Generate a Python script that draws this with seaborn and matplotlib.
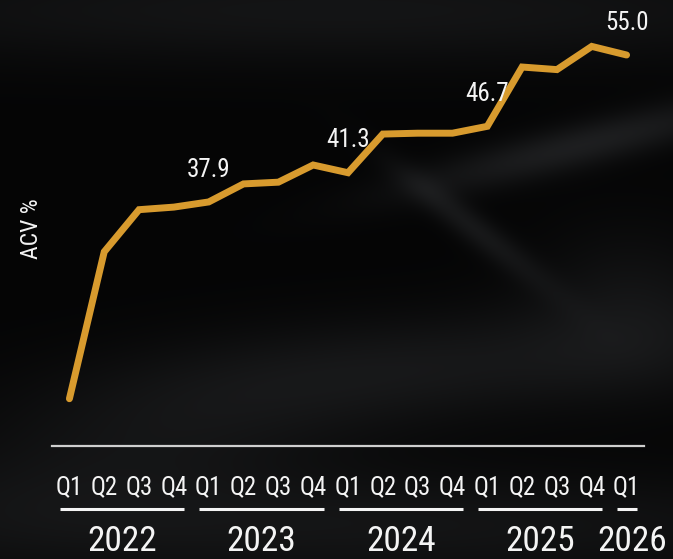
import numpy as np
import pandas as pd
import matplotlib
matplotlib.use("Agg")
import matplotlib.pyplot as plt
import matplotlib.transforms as mtransforms
import seaborn as sns

# Quarterly ACV share, Q1 2022 through Q1 2026
quarters = ["Q1", "Q2", "Q3", "Q4"] * 4 + ["Q1"]
years = ["2022", "2023", "2024", "2025", "2026"]
quarters_per_year = [4, 4, 4, 4, 1]
acv = [15.0, 32.1, 37.0, 37.3, 37.9, 40.0, 40.2, 42.2, 41.3,
       45.8, 45.9, 45.9, 46.7, 53.6, 53.3, 56.0, 55.0]
labeled_periods = [4, 8, 12, 16]  # Q1 of each year from 2023

df = pd.DataFrame({"period": range(len(acv)), "quarter": quarters, "acv": acv})

GOLD = "#d89b2e"
TEXT = "#f4f4f4"
FONT = ["Roboto Condensed", "Liberation Sans Narrow", "DejaVu Sans"]

sns.set_style("dark")
plt.rcParams["font.family"] = FONT
plt.rcParams["font.stretch"] = "condensed"

W, H = 673, 559
fig = plt.figure(figsize=(W / 100, H / 100), dpi=100)

# soft smoky backdrop
yy, xx = np.mgrid[0:H, 0:W].astype(float)


def smudge(cx, cy, sx, sy, angle, amp):
    a = np.deg2rad(angle)
    dx, dy = xx - cx, yy - cy
    u = dx * np.cos(a) + dy * np.sin(a)
    v = -dx * np.sin(a) + dy * np.cos(a)
    return amp * np.exp(-0.5 * ((u / sx) ** 2 + (v / sy) ** 2))


shade = np.full((H, W), 5.0)
shade += smudge(336, 10, 420, 38, 0, 15)
shade += smudge(580, 145, 130, 16, -14, 24)
shade += smudge(470, 225, 70, 11, 38, 18)
shade += smudge(450, 365, 230, 38, -4, 16)
shade += smudge(150, 440, 160, 50, -10, 12)
shade += smudge(336, 525, 420, 40, 0, 15)
shade += smudge(630, 300, 70, 55, 0, 12)
shade = np.clip(shade, 0, 255) / 255.0
bg_rgb = np.dstack([shade, shade * 1.03, shade * 1.08]).clip(0, 1)

bg = fig.add_axes([0, 0, 1, 1], zorder=-1)
bg.imshow(bg_rgb, aspect="auto", extent=(0, W, H, 0), interpolation="bilinear")
bg.set_axis_off()

# main plotting area
ax = fig.add_axes([52 / W, (H - 446) / H, (644 - 52) / W, 446 / H])
ax.patch.set_alpha(0)

sns.lineplot(data=df, x="period", y="acv", ax=ax, color=GOLD, linewidth=5.0,
             solid_capstyle="round", solid_joinstyle="miter")

ax.set_xlim(-0.5, 16.5)
ax.set_ylim(9.5, 61.4)
ax.grid(False)
for side in ["top", "right", "left"]:
    ax.spines[side].set_visible(False)
ax.spines["bottom"].set_color("#cfcfcf")
ax.spines["bottom"].set_linewidth(1.6)
ax.set_yticks([])
ax.set_xlabel("")
ax.set_ylabel("")

ax.set_xticks(df["period"], df["quarter"])
ax.tick_params(axis="x", length=0, pad=21, labelsize=18, labelcolor=TEXT)

# value labels on the Q1 points
for i in labeled_periods:
    ax.annotate(f"{acv[i]:.1f}", (i, acv[i]), xytext=(0, 18.3),
                textcoords="offset points", ha="center", va="baseline",
                color=TEXT, fontsize=18)

# year groups: underline plus year label
blend = mtransforms.blended_transform_factory(ax.transData, fig.transFigure)
start = 0
for k, (year, n) in enumerate(zip(years, quarters_per_year)):
    lo, hi = start - 0.27, start + n - 1 + 0.3
    ax.plot([lo, hi], [1 - 509 / H] * 2, transform=blend, color=TEXT,
            linewidth=2.2, clip_on=False, solid_capstyle="butt")
    if k == len(years) - 1:
        # last year label sits flush with the right edge of the figure
        fig.text(667 / W, 1 - 551 / H, year, ha="right", va="baseline",
                 color=TEXT, fontsize=25.5)
    else:
        ax.text((lo + hi) / 2, 1 - 551 / H, year, transform=blend,
                ha="center", va="baseline", color=TEXT, fontsize=25.5)
    start += n

fig.text(32 / W, 1 - 229 / H, "ACV %", rotation=90, ha="center", va="center",
         color=TEXT, fontsize=17)

fig.savefig("out.png", dpi=100)
